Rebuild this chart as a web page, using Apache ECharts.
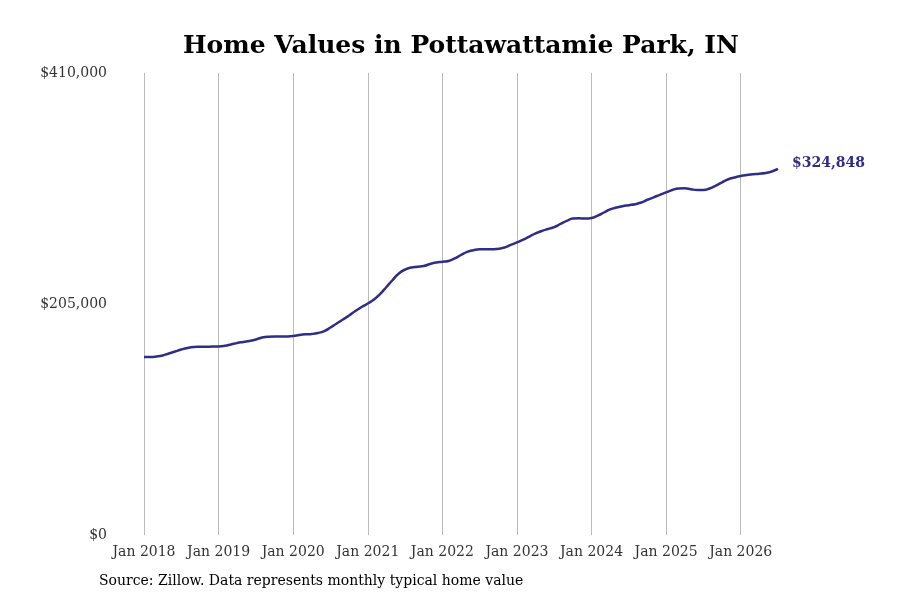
<!DOCTYPE html>
<html>
<head>
<meta charset="UTF-8">
<title>Home Values in Pottawattamie Park, IN</title>
<script src="https://cdn.jsdelivr.net/npm/echarts@6/dist/echarts.min.js"></script>
<style>
  html, body { margin: 0; padding: 0; background: #fff; }
  #main { width: 900px; height: 600px; }
</style>
</head>
<body>
<div id="main"></div>
<script type="text/javascript">
// monthly typical home value, Jan 2018 .. Jul 2026
var startYear = 2018;
var values = [
  158000, 158000, 158400, 159300, 161100, 162800, 164600, 166000, 166800, 167000, 167100, 167200,
  167300, 167900, 169100, 170400, 171300, 172200, 173500, 175300, 176000, 176100, 176100, 176200,
  176600, 177500, 178100, 178400, 179300, 181000, 184100, 187700, 191200, 194800, 198800, 202300,
  205400, 209000, 213900, 220100, 226300, 232100, 235600, 237400, 238100, 238700, 240500, 241800,
  242500, 243200, 245400, 248500, 251200, 252700, 253500, 253500, 253500, 254100, 255100, 257400,
  259600, 262200, 264900, 267600, 269800, 271600, 273300, 276000, 278700, 280900, 281100, 280800,
  281300, 283500, 286200, 288900, 290600, 291800, 292700, 293600, 295100, 297500, 299700, 301900,
  304000, 306200, 307500, 307700, 306800, 306200, 306200, 307500, 310000, 313000, 315700, 317300,
  318600, 319500, 320200, 320600, 321300, 322600, 324848
];
var monthNames = ['Jan', 'Feb', 'Mar', 'Apr', 'May', 'Jun', 'Jul', 'Aug', 'Sep', 'Oct', 'Nov', 'Dec'];
var months = [];
for (var i = 0; i < values.length; i++) {
  months.push(monthNames[i % 12] + ' ' + (startYear + Math.floor(i / 12)));
}
var yTicks = [0, 205000, 410000];

var font = 'DejaVu Serif';
var lineColor = '#2e2d88';

var myChart = echarts.init(document.getElementById('main'));

var option = {
  animation: false,
  title: {
    text: 'Home Values in Pottawattamie Park, IN',
    left: 178,
    top: 29,
    textStyle: { fontFamily: font, fontSize: 25, fontWeight: 'bold', color: '#000' }
  },
  graphic: [{
    type: 'text',
    left: 99,
    top: 574,
    style: {
      text: 'Source: Zillow. Data represents monthly typical home value',
      fontFamily: font,
      fontSize: 14,
      fill: '#000'
    }
  }],
  grid: { left: 144, right: 122, top: 73, bottom: 65 },
  xAxis: {
    type: 'category',
    data: months,
    boundaryGap: false,
    axisLine: { show: false },
    axisTick: { show: false },
    axisLabel: {
      interval: function (idx) { return idx % 12 === 0; },
      fontFamily: font,
      fontSize: 14,
      color: '#333',
      margin: 10
    },
    splitLine: {
      show: true,
      interval: function (idx) { return idx % 12 === 0; },
      lineStyle: { color: '#bbbbbb', width: 1 }
    }
  },
  yAxis: {
    type: 'value',
    min: yTicks[0],
    max: yTicks[2],
    interval: yTicks[1],
    axisLine: { show: false },
    axisTick: { show: false },
    splitLine: { show: false },
    axisLabel: {
      fontFamily: font,
      fontSize: 14,
      color: '#333',
      margin: 37,
      formatter: function (v) { return '$' + v.toLocaleString('en-US'); }
    }
  },
  series: [{
    name: 'Home value',
    type: 'line',
    data: values,
    smooth: true,
    showSymbol: false,
    lineStyle: { color: lineColor, width: 2.5 },
    endLabel: {
      show: true,
      distance: 14,
      offset: [0, -6],
      fontFamily: font,
      fontSize: 14,
      fontWeight: 'bold',
      color: lineColor,
      formatter: function (p) { return '$' + p.value.toLocaleString('en-US'); }
    }
  }]
};

myChart.setOption(option);
</script>
</body>
</html>
